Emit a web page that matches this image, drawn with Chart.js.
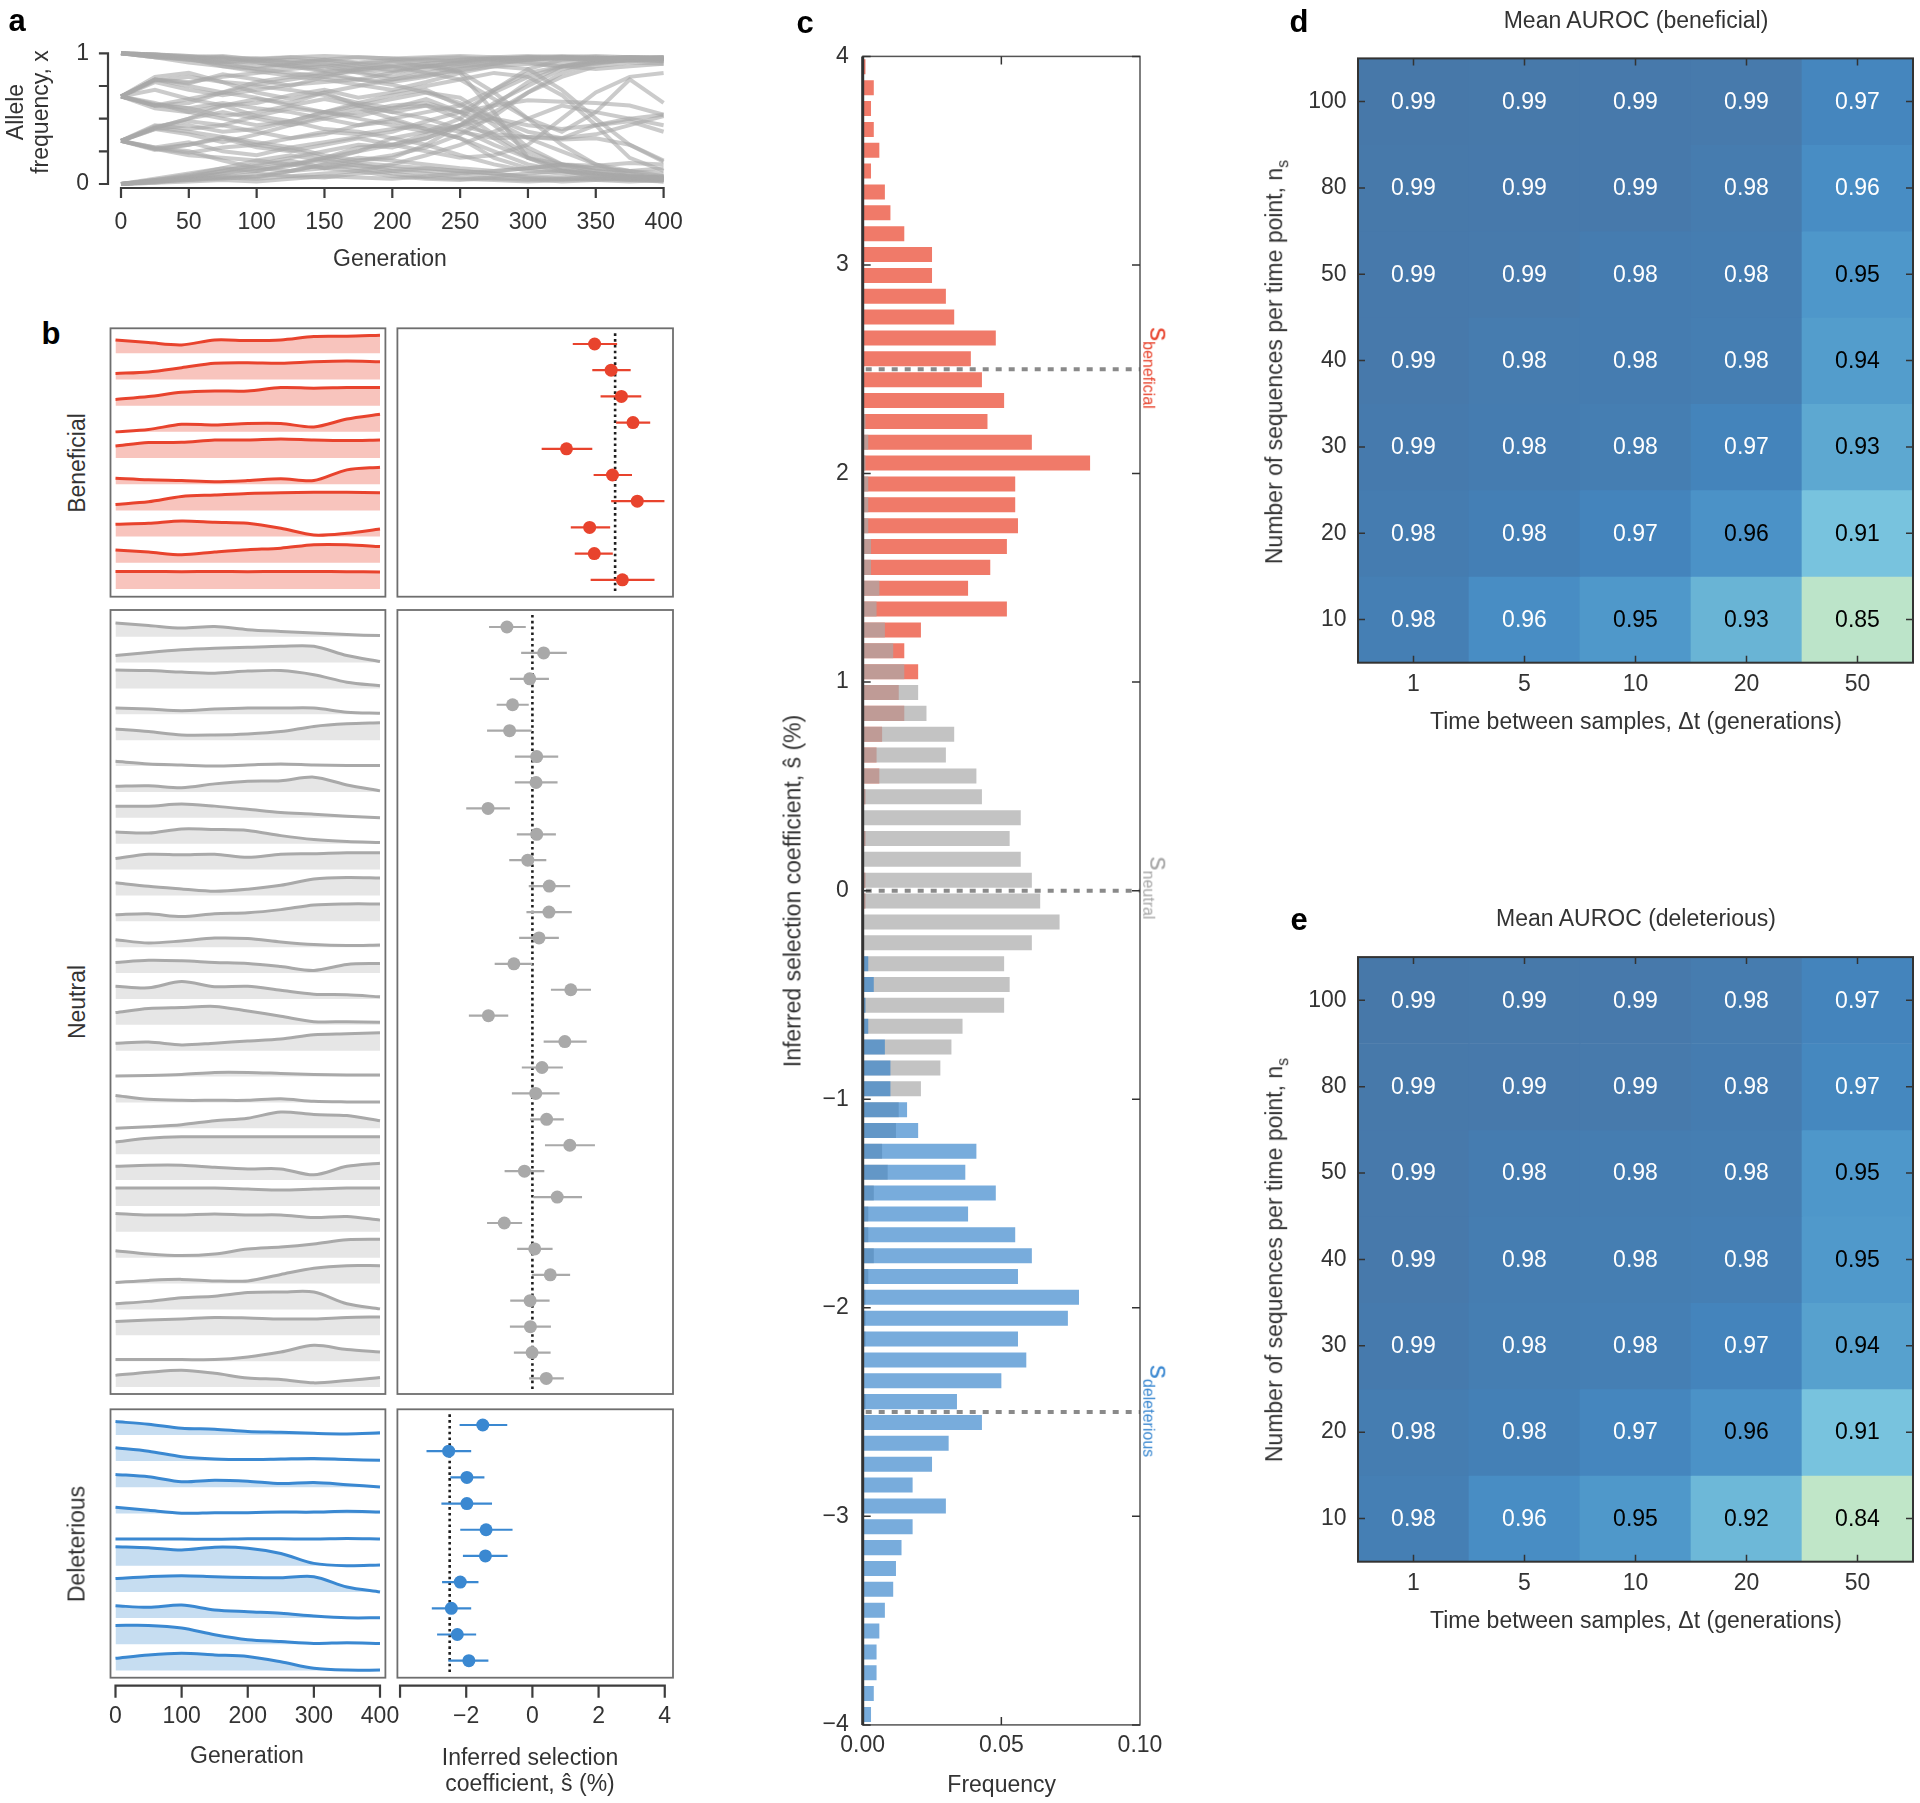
<!DOCTYPE html>
<html><head><meta charset="utf-8">
<script src="https://cdn.jsdelivr.net/npm/chart.js@4.4.1/dist/chart.umd.min.js"></script>
<style>
html,body{margin:0;padding:0;background:#fff;}
#page{position:relative;width:1920px;height:1803px;overflow:hidden;background:#fff;font-family:'Liberation Sans',Arial,Helvetica,sans-serif;color:#333;}
canvas{position:absolute;}
.t{position:absolute;white-space:nowrap;line-height:1;transform-origin:center center;}
</style></head><body><div id="page"></div>
<script>
// ---------------- DATA ----------------
// Panel a: allele frequency trajectories, sampled every 25 generations
const genA = [0,25,50,75,100,125,150,175,200,225,250,275,300,325,350,375,400];
const trajA = [
 [1,.99,.98,.97,.96,.97,.98,.97,.96,.97,.98,.97,.98,.97,.96,.97,.96],
 [1,.98,.96,.90,.88,.91,.87,.89,.93,.95,.94,.96,.97,.96,.95,.94,.95],
 [1,.97,.95,.92,.88,.85,.82,.80,.78,.82,.88,.92,.95,.97,.96,.97,.97],
 [1,.98,.97,.94,.93,.90,.86,.87,.90,.92,.86,.70,.50,.30,.15,.07,.04],
 [1,.99,.97,.96,.94,.95,.93,.90,.87,.90,.93,.95,.97,.98,.97,.96,.97],
 [1,.97,.96,.97,.93,.90,.92,.88,.86,.90,.85,.55,.20,.10,.06,.05,.04],
 [1,.99,.98,.95,.96,.93,.90,.85,.80,.83,.87,.90,.88,.72,.50,.30,.17],
 [1,.98,.95,.93,.90,.92,.95,.93,.95,.96,.97,.95,.93,.90,.92,.95,.94],
 [1,.99,.97,.98,.95,.93,.95,.97,.96,.94,.95,.97,.96,.97,.98,.97,.96],
 [1,.97,.93,.90,.86,.83,.85,.80,.76,.70,.66,.50,.28,.15,.10,.06,.05],
 [1,.98,.96,.93,.95,.97,.95,.92,.90,.92,.95,.96,.95,.93,.95,.96,.95],
 [.67,.80,.78,.82,.85,.88,.90,.92,.94,.90,.93,.96,.97,.96,.95,.96,.95],
 [.67,.60,.62,.70,.75,.72,.68,.62,.58,.60,.55,.60,.64,.63,.62,.60,.53],
 [.67,.62,.55,.50,.45,.48,.42,.40,.35,.30,.22,.15,.10,.08,.05,.04,.03],
 [.67,.78,.72,.68,.72,.76,.78,.80,.85,.90,.92,.95,.96,.97,.96,.97,.97],
 [.67,.60,.58,.52,.55,.60,.65,.60,.55,.50,.42,.30,.20,.15,.12,.10,.08],
 [.67,.80,.77,.84,.80,.75,.82,.88,.90,.85,.80,.65,.50,.40,.55,.80,.62],
 [.67,.58,.55,.60,.52,.48,.55,.62,.68,.72,.60,.50,.40,.35,.45,.50,.45],
 [.67,.82,.85,.78,.70,.65,.70,.60,.55,.60,.50,.72,.88,.95,.96,.95,.96],
 [.67,.72,.65,.60,.62,.68,.72,.66,.70,.75,.80,.85,.82,.68,.45,.20,.10],
 [.67,.79,.82,.78,.76,.80,.84,.86,.82,.88,.90,.93,.95,.96,.97,.96,.96],
 [.67,.61,.58,.62,.58,.55,.50,.45,.48,.42,.35,.25,.15,.10,.06,.04,.02],
 [.67,.80,.75,.70,.66,.60,.55,.52,.58,.65,.55,.38,.36,.34,.35,.30,.18],
 [.67,.60,.65,.70,.78,.82,.80,.76,.72,.78,.85,.90,.92,.90,.88,.90,.92],
 [.33,.45,.42,.45,.40,.35,.38,.45,.50,.55,.60,.72,.85,.90,.93,.95,.96],
 [.33,.27,.22,.20,.18,.15,.12,.15,.10,.08,.05,.04,.03,.04,.05,.03,.04],
 [.33,.43,.40,.36,.30,.35,.40,.38,.42,.45,.40,.35,.36,.35,.38,.45,.52],
 [.33,.27,.30,.35,.28,.25,.30,.35,.30,.25,.20,.22,.30,.50,.70,.82,.85],
 [.33,.43,.50,.55,.50,.45,.50,.55,.60,.62,.55,.48,.35,.25,.15,.10,.06],
 [.33,.28,.25,.18,.12,.15,.20,.25,.30,.35,.45,.50,.45,.42,.45,.48,.40],
 [.33,.42,.38,.32,.38,.45,.52,.58,.50,.42,.35,.20,.12,.10,.08,.06,.05],
 [.33,.43,.50,.60,.65,.62,.70,.75,.80,.85,.90,.92,.95,.97,.96,.97,.96],
 [.33,.26,.30,.36,.32,.28,.22,.18,.20,.30,.45,.62,.75,.88,.93,.95,.94],
 [.33,.44,.48,.45,.52,.58,.55,.50,.45,.40,.45,.38,.22,.12,.08,.05,.03],
 [.33,.27,.24,.28,.30,.26,.20,.16,.14,.12,.10,.08,.06,.05,.04,.03,.02],
 [.33,.42,.45,.40,.42,.48,.55,.60,.65,.70,.62,.45,.25,.15,.10,.08,.05],
 [.33,.28,.32,.25,.22,.28,.32,.36,.40,.48,.55,.70,.82,.90,.94,.96,.95],
 [0,.02,.03,.05,.08,.06,.05,.08,.10,.12,.10,.08,.05,.04,.03,.02,.03],
 [0,.03,.06,.10,.15,.20,.25,.30,.28,.35,.45,.55,.70,.82,.90,.93,.92],
 [0,.01,.04,.06,.05,.10,.15,.12,.08,.05,.04,.03,.02,.03,.04,.05,.06],
 [0,.02,.05,.08,.12,.10,.15,.20,.18,.15,.12,.10,.12,.15,.14,.16,.15],
 [0,.04,.08,.12,.10,.15,.18,.25,.35,.40,.50,.35,.20,.12,.08,.05,.04],
 [0,.02,.03,.04,.06,.10,.12,.18,.22,.28,.38,.52,.70,.85,.93,.95,.96],
 [0,.01,.02,.03,.02,.04,.06,.05,.04,.06,.08,.10,.12,.15,.12,.10,.12],
 [0,.03,.05,.10,.14,.18,.12,.10,.15,.22,.30,.40,.50,.60,.55,.50,.53],
 [0,.02,.04,.05,.04,.06,.08,.10,.06,.04,.03,.05,.04,.02,.03,.04,.03],
 [0,.03,.07,.12,.18,.22,.18,.14,.12,.10,.08,.06,.08,.10,.08,.06,.05],
 [0,.02,.05,.08,.10,.14,.20,.28,.30,.38,.45,.60,.78,.90,.95,.96,.97]
];
const xTicksA = [0,50,100,150,200,250,300,350,400];
const yTicksA = [0,0.25,0.5,0.75,1];

// Panel b: example trajectories (frequency, sampled every 50 generations)
const genB = [0,50,100,150,200,250,300,350,400];
const benTraj = [
 [0.51,0.41,0.32,0.51,0.49,0.51,0.64,0.65,0.69],
 [0.23,0.29,0.45,0.62,0.64,0.62,0.68,0.71,0.68],
 [0.24,0.35,0.51,0.56,0.56,0.69,0.67,0.69,0.69],
 [0.00,0.09,0.29,0.26,0.32,0.32,0.19,0.49,0.67],
 [0.46,0.59,0.60,0.69,0.69,0.73,0.69,0.67,0.69],
 [0.23,0.17,0.14,0.10,0.14,0.21,0.14,0.55,0.65],
 [0.23,0.33,0.53,0.59,0.65,0.68,0.69,0.69,0.68],
 [0.47,0.51,0.60,0.55,0.51,0.32,0.06,0.13,0.29],
 [0.49,0.41,0.31,0.41,0.50,0.56,0.69,0.69,0.62],
 [0.67,0.67,0.66,0.67,0.66,0.67,0.67,0.66,0.65]
];
const neuTraj = [
 [0.53,0.43,0.33,0.39,0.27,0.20,0.14,0.08,0.04],
 [0.27,0.39,0.49,0.55,0.59,0.63,0.63,0.27,0.04],
 [0.71,0.69,0.63,0.59,0.67,0.69,0.53,0.24,0.10],
 [0.24,0.20,0.14,0.20,0.24,0.24,0.24,0.08,0.04],
 [0.43,0.33,0.20,0.20,0.24,0.33,0.53,0.63,0.67],
 [0.18,0.08,0.04,0.00,0.04,0.08,0.04,0.02,0.02],
 [0.22,0.24,0.16,0.31,0.41,0.43,0.57,0.27,0.04],
 [0.45,0.45,0.53,0.45,0.33,0.20,0.14,0.06,0.00],
 [0.45,0.41,0.57,0.55,0.51,0.31,0.16,0.08,0.04],
 [0.43,0.59,0.57,0.59,0.47,0.59,0.61,0.65,0.65],
 [0.49,0.35,0.25,0.16,0.24,0.39,0.63,0.69,0.67],
 [0.25,0.29,0.18,0.29,0.33,0.45,0.63,0.67,0.67],
 [0.29,0.16,0.24,0.35,0.33,0.20,0.10,0.06,0.08],
 [0.41,0.49,0.47,0.41,0.37,0.25,0.10,0.33,0.37],
 [0.49,0.43,0.67,0.47,0.49,0.33,0.18,0.16,0.08],
 [0.47,0.63,0.67,0.71,0.53,0.33,0.12,0.12,0.10],
 [0.29,0.33,0.22,0.29,0.37,0.45,0.61,0.65,0.69],
 [0.02,0.04,0.08,0.16,0.16,0.12,0.08,0.06,0.06],
 [0.27,0.12,0.08,0.08,0.08,0.14,0.04,0.02,0.02],
 [0.00,0.06,0.14,0.29,0.39,0.63,0.53,0.49,0.29],
 [0.47,0.61,0.67,0.67,0.67,0.67,0.67,0.67,0.67],
 [0.53,0.57,0.57,0.49,0.43,0.43,0.20,0.53,0.65],
 [0.69,0.69,0.69,0.69,0.65,0.61,0.65,0.69,0.69],
 [0.71,0.65,0.65,0.69,0.65,0.65,0.55,0.59,0.45],
 [0.27,0.14,0.08,0.14,0.33,0.41,0.53,0.69,0.71],
 [0.04,0.12,0.16,0.10,0.10,0.35,0.59,0.69,0.69],
 [0.22,0.31,0.45,0.51,0.65,0.67,0.67,0.22,0.02],
 [0.53,0.59,0.63,0.69,0.67,0.63,0.63,0.69,0.71],
 [0.06,0.06,0.06,0.06,0.16,0.35,0.61,0.45,0.35],
 [0.45,0.57,0.65,0.53,0.35,0.29,0.16,0.25,0.37]
];
const delTraj = [
 [0.51,0.41,0.26,0.22,0.13,0.10,0.06,0.04,0.08],
 [0.51,0.38,0.17,0.08,0.06,0.08,0.10,0.06,0.03],
 [0.49,0.40,0.21,0.27,0.23,0.14,0.18,0.10,0.01],
 [0.24,0.12,0.01,0.03,0.03,0.05,0.05,0.08,0.05],
 [0.02,0.02,0.02,0.01,0.03,0.03,0.02,0.04,0.02],
 [0.73,0.69,0.60,0.71,0.67,0.47,0.09,0.00,0.03],
 [0.51,0.58,0.62,0.58,0.55,0.54,0.58,0.19,0.00],
 [0.47,0.41,0.50,0.31,0.24,0.18,0.08,0.01,0.01],
 [0.72,0.72,0.62,0.36,0.17,0.10,0.03,0.06,0.03],
 [0.46,0.59,0.65,0.59,0.53,0.33,0.08,0.01,0.01]
];
// inferred selection coefficients (%) with error bar ends
const benS  = [1.88,2.38,2.69,3.04,1.03,2.42,3.17,1.73,1.87,2.72];
const benLo = [1.22,1.81,2.06,2.53,0.28,1.85,2.38,1.16,1.28,1.76];
const benHi = [2.56,2.97,3.29,3.56,1.81,3.01,3.99,2.35,2.43,3.69];
const neuS  = [-0.77,0.34,-0.08,-0.60,-0.69,0.13,0.11,-1.34,0.13,-0.14,0.51,0.50,0.20,-0.56,1.16,-1.33,0.98,0.29,0.10,0.43,1.13,-0.24,0.75,-0.85,0.07,0.54,-0.07,-0.06,-0.01,0.42];
const neuLo = [-1.31,-0.34,-0.68,-1.08,-1.37,-0.53,-0.53,-2.00,-0.47,-0.70,-0.11,-0.18,-0.40,-1.14,0.56,-1.92,0.34,-0.32,-0.62,-0.07,0.38,-0.84,0.03,-1.37,-0.46,-0.02,-0.67,-0.68,-0.56,-0.10];
const neuHi = [-0.20,1.04,0.50,-0.11,-0.02,0.78,0.76,-0.68,0.71,0.42,1.14,1.19,0.80,0.00,1.77,-0.73,1.64,0.92,0.82,0.95,1.89,0.36,1.50,-0.31,0.61,1.14,0.52,0.56,0.55,0.95];
const delS  = [-1.50,-2.53,-1.98,-1.98,-1.40,-1.42,-2.18,-2.45,-2.27,-1.92];
const delLo = [-2.20,-3.20,-2.48,-2.75,-2.18,-2.10,-2.73,-3.04,-2.88,-2.54];
const delHi = [-0.76,-1.85,-1.45,-1.22,-0.60,-0.75,-1.63,-1.85,-1.70,-1.33];
const sBen = 2.5, sNeu = 0, sDel = -2.5;
const xTicksGen = [0,100,200,300,400];
const xTicksS = [-4,-2,0,2,4];

// Panel c: histogram of inferred coefficients, bins of 0.1 from 3.95 (top) to -3.95 (bottom)
const histCenters = [];
for (let k = 0; k < 80; k++) histCenters.push(+(3.95 - 0.1 * k).toFixed(2));
const histBen = [
 .001,.004,.003,.004,.006,.003,.008,.010,.015,.025,
 .025,.030,.033,.048,.039,.043,.051,.045,.061,.082,
 .055,.055,.056,.052,.046,.038,.052,.021,.015,.020,
 .013,.015,.007,.005,.006,.001,0,.001,0,.001,
 .001,0,0,0,0,0,0,0,0,0,
 0,0,0,0,0,0,0,0,0,0,
 0,0,0,0,0,0,0,0,0,0,
 0,0,0,0,0,0,0,0,0,0];
const histNeu = [
 0,0,0,0,0,0,0,0,0,0,
 0,0,0,0,0,0,0,.001,.002,.001,
 .002,.002,.002,.003,.003,.006,.005,.008,.011,.015,
 .020,.023,.033,.030,.041,.043,.057,.053,.057,.061,
 .064,.071,.061,.051,.053,.051,.036,.032,.028,.021,
 .013,.012,.007,.009,.004,.002,.002,.004,.002,.001,
 .001,.001,0,0,.001,0,0,0,0,0,
 0,0,0,0,0,0,0,0,0,0];
const histDel = [
 0,0,0,0,0,0,0,0,0,0,
 0,0,0,0,0,0,0,0,0,0,
 0,0,0,0,0,0,0,0,0,0,
 0,0,0,0,0,0,0,0,0,0,
 0,0,0,.002,.004,.001,.002,.008,.010,.010,
 .016,.020,.041,.037,.048,.038,.055,.061,.056,.078,
 .074,.056,.059,.050,.034,.043,.031,.025,.018,.030,
 .018,.014,.012,.011,.008,.006,.005,.005,.004,.003];
const yTicksC = [-4,-3,-2,-1,0,1,2,3,4];
const xTicksC = [0,0.05,0.1];

// Panels d, e: mean AUROC, rows top->bottom n_s = 100,80,50,40,30,20,10; columns dt = 1,5,10,20,50
const dtLabels = ['1','5','10','20','50'];
const nsLabelsBottomUp = ['10','20','30','40','50','80','100'];
const aurocBen = [
 [0.992,0.991,0.990,0.988,0.970],
 [0.991,0.990,0.989,0.984,0.962],
 [0.990,0.988,0.983,0.982,0.951],
 [0.989,0.984,0.983,0.981,0.944],
 [0.987,0.983,0.981,0.973,0.934],
 [0.983,0.979,0.972,0.956,0.910],
 [0.980,0.962,0.950,0.926,0.850]];
const aurocDel = [
 [0.992,0.991,0.990,0.984,0.972],
 [0.991,0.990,0.988,0.983,0.968],
 [0.990,0.983,0.982,0.981,0.951],
 [0.989,0.982,0.981,0.980,0.948],
 [0.987,0.981,0.980,0.972,0.940],
 [0.982,0.978,0.970,0.956,0.910],
 [0.980,0.962,0.950,0.922,0.840]];

// ---------------- SETUP ----------------
const page = document.getElementById('page');
const FONT = "'Liberation Sans', Arial, Helvetica, sans-serif";
Chart.defaults.font.family = FONT;
Chart.defaults.font.size = 23;
Chart.defaults.color = '#333';
Chart.defaults.animation = false;
Chart.defaults.plugins.legend.display = false;
Chart.defaults.plugins.tooltip.enabled = false;

// rect: canvas box on page; area: wanted plot area on page; ax: sizes reserved for left / bottom axes
function mk(rect, area, config, ax) {
  ax = ax || {};
  const cv = document.createElement('canvas');
  cv.width = rect.w; cv.height = rect.h;
  cv.style.left = rect.x + 'px'; cv.style.top = rect.y + 'px';
  cv.style.width = rect.w + 'px'; cv.style.height = rect.h + 'px';
  page.appendChild(cv);
  const o = config.options = config.options || {};
  o.responsive = false; o.maintainAspectRatio = false; o.devicePixelRatio = 1; o.events = [];
  o.layout = {padding: {left: area.l - rect.x - (ax.left || 0), top: area.t - rect.y,
    right: rect.x + rect.w - area.r, bottom: rect.y + rect.h - area.b - (ax.bottom || 0)}};
  return new Chart(cv.getContext('2d'), config);
}
function shownAxis(min, max, vals, fmt, padding, isX, size, extra) {
  return Object.assign({
    type: 'linear', min, max, display: true, offset: false,
    grid: {display: false, drawTicks: false}, border: {display: false},
    afterBuildTicks: s => { s.ticks = vals.map(v => ({value: v})); },
    afterFit: s => { if (isX) s.height = size; else s.width = size; },
    ticks: {padding, autoSkip: false, maxRotation: 0, minRotation: 0, color: '#333',
      callback: v => fmt(v)}
  }, extra || {});
}
function hiddenAxis(min, max, extra) {
  return Object.assign({type: 'linear', display: false, min, max, offset: false}, extra || {});
}
const fmtSigned = v => v < 0 ? '\u2212' + Math.abs(v) : String(v);

function seg(ctx, x1, y1, x2, y2) { ctx.moveTo(x1, y1); ctx.lineTo(x2, y2); }
function axisX(ctx, scale, vals, y, len, color, w) {
  ctx.save(); ctx.strokeStyle = color || '#3d3d3d'; ctx.lineWidth = w || 2.2; ctx.lineCap = 'square';
  ctx.beginPath();
  seg(ctx, scale.getPixelForValue(vals[0]), y, scale.getPixelForValue(vals[vals.length - 1]), y);
  vals.forEach(v => { const x = scale.getPixelForValue(v); seg(ctx, x, y, x, y + len); });
  ctx.stroke(); ctx.restore();
}
function axisY(ctx, scale, vals, x, len, color, w) {
  ctx.save(); ctx.strokeStyle = color || '#3d3d3d'; ctx.lineWidth = w || 2.2; ctx.lineCap = 'square';
  ctx.beginPath();
  seg(ctx, x, scale.getPixelForValue(vals[0]), x, scale.getPixelForValue(vals[vals.length - 1]));
  vals.forEach(v => { const y = scale.getPixelForValue(v); seg(ctx, x, y, x - len, y); });
  ctx.stroke(); ctx.restore();
}
function frame(ctx, a, color, w) {
  ctx.save(); ctx.strokeStyle = color; ctx.lineWidth = w;
  ctx.strokeRect(a.left, a.top, a.right - a.left, a.bottom - a.top); ctx.restore();
}
function text(html, cx, cy, size, opt) {
  opt = opt || {};
  const d = document.createElement('div');
  d.className = 't'; d.innerHTML = html;
  d.style.left = cx + 'px'; d.style.top = cy + 'px'; d.style.fontSize = size + 'px';
  d.style.transform = 'translate(-50%,-50%) rotate(' + (opt.rot || 0) + 'deg)';
  if (opt.color) d.style.color = opt.color;
  if (opt.bold) d.style.fontWeight = 'bold';
  page.appendChild(d);
}

// ---------------- PANEL A ----------------
mk({x: 0, y: 0, w: 720, h: 280}, {l: 121, r: 663.6, t: 53.3, b: 184}, {
  type: 'line',
  data: {datasets: trajA.map(tr => ({
    data: genA.map((g, i) => ({x: g, y: tr[i]})),
    borderColor: 'rgba(168,168,168,0.6)', borderWidth: 4, pointRadius: 0,
    tension: 0, fill: false, clip: false}))},
  options: {scales: {
    x: shownAxis(0, 400, xTicksA, v => String(v), 25, true, 60),
    y: shownAxis(0, 1, yTicksA, v => (v === 0 ? '0' : (v === 1 ? '1' : '')), 32, false, 60)}},
  plugins: [{id: 'axA', afterDraw(c) {
    const a = c.chartArea;
    axisX(c.ctx, c.scales.x, xTicksA, a.bottom + 4, 9);
    axisY(c.ctx, c.scales.y, yTicksA, a.left - 13, 8);
  }}]
}, {left: 60, bottom: 60});

// ---------------- PANEL B ----------------
const gx0 = 115.5, gx400 = 380, boxL = 110.5, boxR = 385.4;
const pxPerGen = (gx400 - gx0) / 400;
const genMin = -(gx0 - boxL) / pxPerGen, genMax = 400 + (boxR - gx400) / pxPerGen;

function trajChart(rect, area, trajs, ymin, ymax, lineColor, fillColor, withAxis) {
  const n = trajs.length;
  return mk(rect, area, {
    type: 'line',
    data: {datasets: trajs.map((tr, i) => {
      const base = n - 1 - i;
      return {data: genB.map((g, j) => ({x: g, y: base + tr[j]})),
        borderColor: lineColor, borderWidth: 3, pointRadius: 0, tension: 0.3,
        fill: {value: base}, backgroundColor: fillColor, clip: false};
    })},
    options: {scales: {
      x: withAxis ? shownAxis(genMin, genMax, xTicksGen, v => String(v), 25, true, 60) : hiddenAxis(genMin, genMax),
      y: hiddenAxis(ymin, ymax)}},
    plugins: [{id: 'fr', afterDraw(c) {
      frame(c.ctx, c.chartArea, '#6e6e6e', 1.8);
      if (withAxis) axisX(c.ctx, c.scales.x, xTicksGen, c.chartArea.bottom + 8, 11);
    }}]
  }, withAxis ? {bottom: 60} : {});
}
function ptChart(rect, area, s, lo, hi, ymin, ymax, color, sTrue, withAxis) {
  const sets = [{data: s.map((v, i) => ({x: v, y: i})), pointRadius: 6.5, pointBackgroundColor: color,
    pointBorderWidth: 0, showLine: false, order: 0}];
  lo.forEach((l, i) => sets.push({data: [{x: l, y: i}, {x: hi[i], y: i}], showLine: true,
    borderColor: color, borderWidth: 2.2, pointRadius: 0, order: 1}));
  const sMin = (397.4 - 532.4) / 33.09, sMax = (673 - 532.4) / 33.09;
  return mk(rect, area, {
    type: 'scatter',
    data: {datasets: sets},
    options: {scales: {
      x: withAxis ? shownAxis(sMin, sMax, xTicksS, v => (v === -4 ? '' : fmtSigned(v)), 25, true, 60) : hiddenAxis(sMin, sMax),
      y: hiddenAxis(ymin, ymax, {reverse: true})}},
    plugins: [{id: 'dl', beforeDatasetsDraw(c) {
      const ctx = c.ctx, a = c.chartArea, x = c.scales.x.getPixelForValue(sTrue);
      ctx.save(); ctx.strokeStyle = '#1e1e1e'; ctx.lineWidth = 2.6; ctx.setLineDash([2.6, 3.2]);
      ctx.beginPath(); seg(ctx, x, a.top + 5, x, a.bottom - 5); ctx.stroke(); ctx.restore();
    }, afterDraw(c) {
      frame(c.ctx, c.chartArea, '#6e6e6e', 1.8);
      if (withAxis) axisX(c.ctx, c.scales.x, xTicksS, c.chartArea.bottom + 8, 11);
    }}]
  }, withAxis ? {bottom: 60} : {});
}
const RED = '#e8432d', GREY = '#a9a9a9', BLUE = '#3a88d1';
trajChart({x: 100, y: 318, w: 295, h: 290}, {l: boxL, r: boxR, t: 328.3, b: 596.7}, benTraj, -0.294, 9.955, RED, '#f8c4bd', false);
trajChart({x: 100, y: 600, w: 295, h: 804}, {l: boxL, r: boxR, t: 610, b: 1394}, neuTraj, -0.27, 30.03, GREY, '#e6e6e6', false);
trajChart({x: 40, y: 1399, w: 400, h: 345}, {l: boxL, r: boxR, t: 1409.3, b: 1677.7}, delTraj, -0.28, 9.98, BLUE, '#c6ddf1', true);
ptChart({x: 390, y: 318, w: 295, h: 290}, {l: 397.4, r: 673, t: 328.3, b: 596.7}, benS, benLo, benHi, -0.6, 9.645, RED, sBen, false);
ptChart({x: 390, y: 600, w: 295, h: 804}, {l: 397.4, r: 673, t: 610, b: 1394}, neuS, neuLo, neuHi, -0.656, 29.6, GREY, sNeu, false);
ptChart({x: 340, y: 1399, w: 400, h: 345}, {l: 397.4, r: 673, t: 1409.3, b: 1677.7}, delS, delLo, delHi, -0.6, 9.65, BLUE, sDel, true);

// ---------------- PANEL C ----------------
mk({x: 780, y: 0, w: 400, h: 1803}, {l: 862.7, r: 1140, t: 56.4, b: 1724.9}, {
  type: 'bar',
  data: {datasets: [
    {data: histCenters.map((c, i) => ({x: histBen[i], y: c})), backgroundColor: 'rgb(240,122,105)', order: 2},
    {data: histCenters.map((c, i) => ({x: histNeu[i], y: c})), backgroundColor: 'rgba(170,170,170,0.7)', order: 1},
    {data: histCenters.map((c, i) => ({x: histDel[i], y: c})), backgroundColor: 'rgba(50,129,202,0.66)', order: 0}
  ].map(d => Object.assign(d, {grouped: false, barPercentage: 0.72, categoryPercentage: 1, borderWidth: 0}))},
  options: {indexAxis: 'y', scales: {
    x: shownAxis(0, 0.1, xTicksC, v => v.toFixed(2), 7, true, 40),
    y: shownAxis(-4, 4, yTicksC, fmtSigned, 14, false, 70)}},
  plugins: [{id: 'cdeco', afterDatasetsDraw(c) {
    const ctx = c.ctx, a = c.chartArea, ys = c.scales.y;
    ctx.save(); ctx.strokeStyle = '#8a8a8a'; ctx.lineWidth = 4; ctx.setLineDash([6, 7]);
    [sBen, sNeu, sDel].forEach(v => { const y = ys.getPixelForValue(v); ctx.beginPath(); seg(ctx, a.left + 3, y, a.right, y); ctx.stroke(); });
    ctx.restore();
  }, afterDraw(c) {
    const ctx = c.ctx, a = c.chartArea, xs = c.scales.x, ys = c.scales.y;
    frame(ctx, a, '#555', 1.5);
    ctx.save(); ctx.strokeStyle = '#333'; ctx.lineWidth = 3;
    ctx.beginPath(); seg(ctx, a.left, a.top, a.left, a.bottom); ctx.stroke();
    ctx.lineWidth = 1.5; ctx.beginPath();
    yTicksC.forEach(v => { const y = ys.getPixelForValue(v); seg(ctx, a.left, y, a.left + 8, y); seg(ctx, a.right, y, a.right - 8, y); });
    const xm = xs.getPixelForValue(0.05); seg(ctx, xm, a.top, xm, a.top + 8); seg(ctx, xm, a.bottom, xm, a.bottom - 8);
    ctx.stroke(); ctx.restore();
  }}]
}, {left: 70, bottom: 40});

// ---------------- PANELS D, E ----------------
const cmapStops = [[0.84,[192,230,200]],[0.85,[188,228,201]],[0.88,[150,212,212]],[0.91,[120,195,222]],
  [0.925,[106,181,214]],[0.935,[91,166,208]],[0.945,[82,156,204]],[0.955,[75,147,200]],
  [0.965,[70,138,194]],[0.975,[67,130,185]],[0.985,[70,123,174]],[0.995,[72,119,167]]];
function aurocColor(v) {
  if (v <= cmapStops[0][0]) return 'rgb(' + cmapStops[0][1].join(',') + ')';
  for (let i = 1; i < cmapStops.length; i++) {
    if (v <= cmapStops[i][0]) {
      const [v0, c0] = cmapStops[i - 1], [v1, c1] = cmapStops[i], t = (v - v0) / (v1 - v0);
      return 'rgb(' + c0.map((c, k) => Math.round(c + (c1[k] - c) * t)).join(',') + ')';
    }
  }
  return 'rgb(' + cmapStops[cmapStops.length - 1][1].join(',') + ')';
}
function heatChart(rect, area, vals) {
  const nR = vals.length;
  const datasets = vals.map((row, k) => {
    const r = nR - 1 - k;
    return {data: row.map(() => [r, r + 1]), cellValues: row, backgroundColor: row.map(aurocColor),
      grouped: false, barPercentage: 1, categoryPercentage: 1, borderWidth: 0, borderSkipped: false};
  });
  return mk(rect, area, {
    type: 'bar',
    data: {labels: dtLabels, datasets},
    options: {scales: {
      x: {type: 'category', offset: true, display: true, grid: {display: false, drawTicks: false}, border: {display: false},
        afterFit: s => { s.height = 40; }, ticks: {padding: 8, autoSkip: false, maxRotation: 0, minRotation: 0, color: '#333'}},
      y: {type: 'linear', min: 0, max: nR, display: true, grid: {display: false, drawTicks: false}, border: {display: false},
        afterBuildTicks: s => { s.ticks = nsLabelsBottomUp.map((l, i) => ({value: i + 0.5})); },
        afterFit: s => { s.width = 60; },
        ticks: {padding: 11.5, autoSkip: false, color: '#333', callback: (v, i) => nsLabelsBottomUp[i]}}}},
    plugins: [{id: 'cells', afterDatasetsDraw(c) {
      const ctx = c.ctx;
      ctx.save(); ctx.font = '23px ' + FONT; ctx.textAlign = 'center'; ctx.textBaseline = 'middle';
      c.data.datasets.forEach((ds, di) => {
        c.getDatasetMeta(di).data.forEach((el, j) => {
          const p = el.getProps(['x', 'y', 'base'], true), v = ds.cellValues[j];
          ctx.fillStyle = v >= 0.96 ? '#ffffff' : '#000000';
          ctx.fillText(v.toFixed(2), p.x, (p.y + p.base) / 2 + 1);
        });
      });
      ctx.restore();
    }, afterDraw(c) {
      const ctx = c.ctx, a = c.chartArea, xs = c.scales.x, ys = c.scales.y;
      frame(ctx, a, '#333', 2);
      ctx.save(); ctx.strokeStyle = '#333'; ctx.lineWidth = 1.5; ctx.beginPath();
      dtLabels.forEach((l, i) => { const x = xs.getPixelForValue(i); seg(ctx, x, a.top, x, a.top + 7); seg(ctx, x, a.bottom, x, a.bottom - 7); });
      nsLabelsBottomUp.forEach((l, i) => { const y = ys.getPixelForValue(i + 0.5); seg(ctx, a.left, y, a.left + 7, y); seg(ctx, a.right, y, a.right - 7, y); });
      ctx.stroke(); ctx.restore();
    }}]
  }, {left: 60, bottom: 40});
}
heatChart({x: 1280, y: 20, w: 640, h: 720}, {l: 1358, r: 1913, t: 58.4, b: 662.7}, aurocBen);
heatChart({x: 1280, y: 920, w: 640, h: 720}, {l: 1358, r: 1913, t: 957.1, b: 1561.7}, aurocDel);

// ---------------- TEXT ----------------
text('a', 17, 20, 31, {bold: true, color: '#000'});
text('Allele', 15, 112, 23, {rot: -90});
text('frequency, x', 40, 112, 23, {rot: -90});
text('Generation', 390, 258, 23);
text('b', 51, 333, 31, {bold: true, color: '#000'});
text('Beneficial', 77, 462.5, 23, {rot: -90});
text('Neutral', 77, 1002, 23, {rot: -90});
text('Deleterious', 77, 1543.5, 23, {rot: -90});
text('Generation', 247, 1755, 23);
text('Inferred selection', 530, 1757, 23);
text('coefficient, \u015D (%)', 530, 1783, 23);
text('c', 805, 22, 31, {bold: true, color: '#000'});
text('Inferred selection coefficient, \u015D (%)', 793, 891, 23, {rot: -90});
text('Frequency', 1001.7, 1784, 23);
text('s<sub style="font-size:16px">beneficial</sub>', 1157, 368, 28, {rot: 90, color: RED});
text('s<sub style="font-size:16px">neutral</sub>', 1157, 888, 28, {rot: 90, color: '#a6a6a6'});
text('s<sub style="font-size:16px">deleterious</sub>', 1157, 1411, 28, {rot: 90, color: BLUE});
text('d', 1299, 21, 31, {bold: true, color: '#000'});
text('Mean AUROC (beneficial)', 1636, 20, 23);
text('Number of sequences per time point, n<sub style="font-size:16px">s</sub>', 1277, 362, 23, {rot: -90});
text('Time between samples, \u0394t (generations)', 1636, 721, 23);
text('e', 1299, 919, 31, {bold: true, color: '#000'});
text('Mean AUROC (deleterious)', 1636, 918, 23);
text('Number of sequences per time point, n<sub style="font-size:16px">s</sub>', 1277, 1260, 23, {rot: -90});
text('Time between samples, \u0394t (generations)', 1636, 1620, 23);
</script></body></html>
